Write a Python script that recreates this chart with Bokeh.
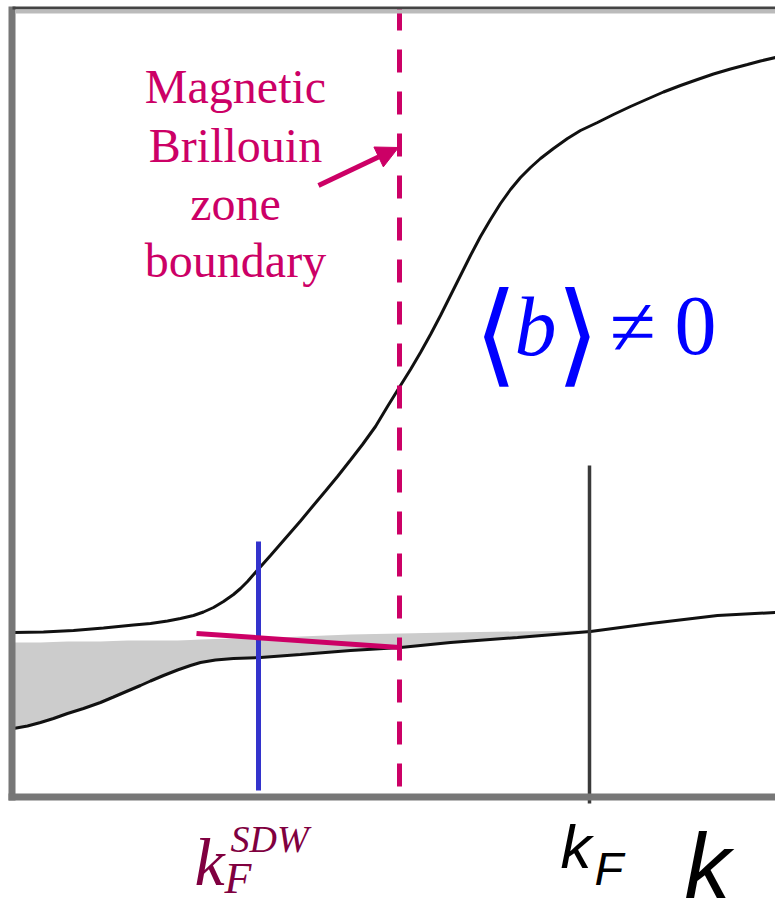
from bokeh.plotting import figure
from bokeh.models import Range1d, Arrow, NormalHead
from bokeh.core.properties import value
from bokeh.embed import file_html
from bokeh.resources import INLINE

# Schematic band diagram, coordinates in drawing units (k to the right, energy downwards)
# Upper band
k_upper = [13, 43, 73, 103, 133, 150, 167, 180, 193, 203, 213, 223, 233, 240, 247, 258, 270,
           280, 290, 300, 312, 325, 337, 350, 362, 375, 387, 400, 410, 420, 430, 440, 450,
           460, 470, 480, 490, 500, 510, 520, 530, 540, 553, 567, 580, 597, 613, 630, 647,
           663, 680, 697, 713, 730, 747, 760, 775]
e_upper = [632, 631.5, 630, 627.5, 624.5, 623, 620.5, 618, 615, 611.5, 607, 601, 594, 588,
           581, 568.5, 555, 543.5, 532, 520.5, 506, 490.5, 476, 459.5, 444, 426, 406, 385,
           369, 352, 334, 315, 295, 275, 255, 236, 219, 203, 189, 177, 167, 158, 148, 138,
           130, 122, 114, 106, 98.5, 91.5, 85, 79, 73.5, 68.5, 64, 60.5, 57]

# Lower band
k_lower = [13, 27, 40, 53, 67, 83, 100, 113, 127, 140, 150, 163, 177, 190, 200, 215, 233,
           260, 300, 350, 400, 450, 517, 590, 650, 717, 775]
e_lower = [728, 725.5, 722, 718, 713, 708, 702, 696.5, 690.5, 685, 680.5, 675, 669.5, 665,
           662, 659.5, 658, 657, 654, 650, 647, 642, 637, 631, 623, 615, 612]

# Occupied (shaded) states: top edge of the shading at the lower band's k points
e_fill_top = [642, 642, 642, 641.5, 641, 641, 641, 640.5, 640, 640, 640, 640, 640, 639.5,
              639, 638.5, 638, 638, 636, 634, 633, 632, 631, 630]
k_fill = k_lower[:len(e_fill_top)]
e_fill_bottom = e_lower[:len(e_fill_top)]

# Markers on the k axis
k_sdw = 258           # k_F^SDW
k_fermi = 589         # k_F
k_mbz = 399           # magnetic Brillouin zone boundary

# Gap line drawn across the zone boundary
gap_k = [196, 399]
gap_e = [633, 647]

W, H = 775, 902
MAGENTA = "#cc0066"
BLUE = "#0000ff"
MAROON = "#800040"

p = figure(width=W, height=H, output_backend="svg", toolbar_location=None,
           x_range=Range1d(0, W), y_range=Range1d(H, 0),
           min_border=0, x_axis_location=None, y_axis_location=None,
           background_fill_color="white", border_fill_color="white",
           outline_line_color=None)
p.grid.visible = False

# shaded occupied states
p.varea(x=k_fill, y1=e_fill_top, y2=e_fill_bottom, fill_color="#cccccc")

# bands
p.line(k_upper, e_upper, line_color="#111111", line_width=3)
p.line(k_lower, e_lower, line_color="#111111", line_width=3)

# k_F marker
p.line([k_fermi, k_fermi], [465, 803], line_color="#3a3a3a", line_width=3.5)
# k_F^SDW marker
p.line([k_sdw, k_sdw], [541, 790], line_color="#3333cc", line_width=5)
# gap line
p.line(gap_k, gap_e, line_color=MAGENTA, line_width=5)
# zone boundary
p.line([k_mbz, k_mbz], [7, 786], line_color=MAGENTA, line_width=5, line_dash="23 19")

# frame
p.line([11.5, 11.5], [6, 800], line_color="#777777", line_width=7)
p.line([8, W], [796.5, 796.5], line_color="#777777", line_width=7)
p.line([12, W], [7.5, 7.5], line_color="#444444", line_width=3)
p.line([15, W], [11, 11], line_color="#bbbbbb", line_width=4)

# annotation arrow
p.add_layout(Arrow(end=NormalHead(size=22, fill_color=MAGENTA, line_color=MAGENTA, line_width=1),
                   x_start=318, y_start=185, x_end=398, y_end=147,
                   line_color=MAGENTA, line_width=5))

serif = value("Liberation Serif")
sans = value("Liberation Sans")
brackets = value("Noto Sans CJK JP")


def label(x, y, text, size, font, color, style="normal", align="left"):
    """Place text with its baseline at y."""
    p.text(x=[x], y=[y - 0.35 * size], text=[text], text_font=font,
           text_font_style=style, text_font_size=f"{size}px", text_color=color,
           text_align=align, text_baseline="alphabetic")


for txt, base in zip(["Magnetic", "Brillouin", "zone", "boundary"], [103, 162, 220, 277]):
    label(235, base, txt, 48, serif, MAGENTA, align="center")

# <b> != 0
label(495, 362, "\u27e8", 112, brackets, BLUE, align="center")
label(577, 362, "\u27e9", 112, brackets, BLUE, align="center")
label(535, 355, "b", 84, serif, BLUE, style="italic", align="center")
label(632, 355, "\u2260", 84, serif, BLUE, align="center")
label(695, 355, "0", 84, serif, BLUE, align="center")

# k_F^SDW label
label(194, 885, "k", 68, serif, MAROON, style="italic")
label(230, 852, "SDW", 38, serif, MAROON, style="italic")
label(224, 893, "F", 44, serif, MAROON, style="italic")

# k_F label and axis label
label(560, 868, "k", 62, sans, "black", style="italic")
label(594, 884, "F", 47, sans, "black", style="italic")
label(684, 898, "k", 92, sans, "black", style="italic")

open("out.html", "w").write(file_html(p, INLINE))
